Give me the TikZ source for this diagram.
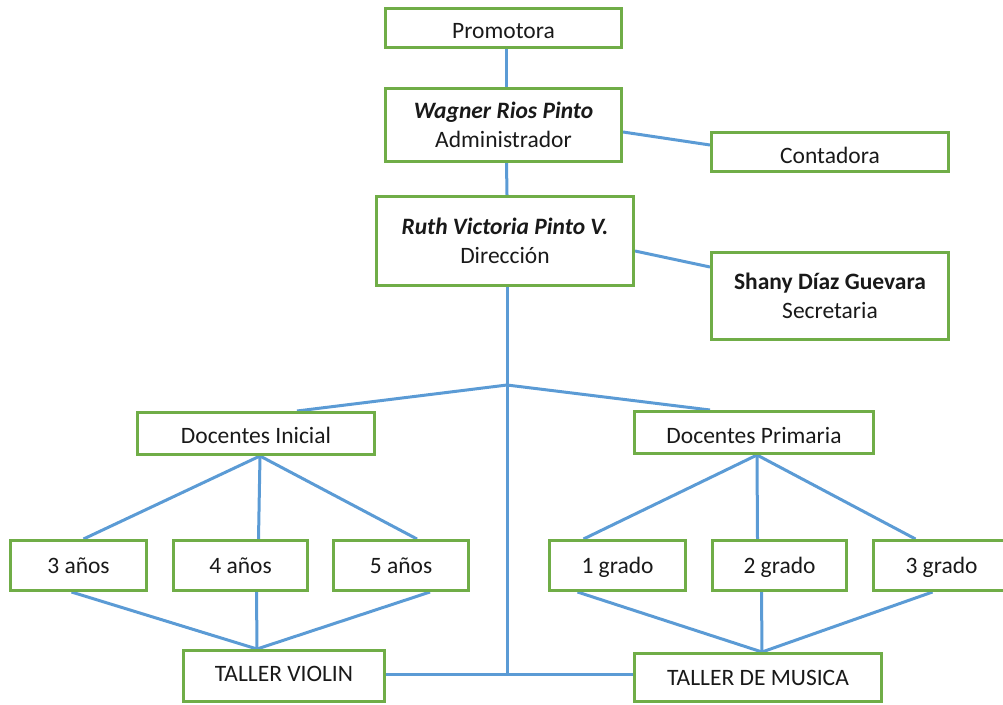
\documentclass[tikz,border=0pt]{standalone}
\usepackage{fontspec}
\setmainfont{Carlito}
\usetikzlibrary{backgrounds}
\definecolor{boxgreen}{RGB}{112,173,71}
\definecolor{linkblue}{RGB}{91,155,213}
\tikzset{
  box/.style = {draw=boxgreen, line width=3pt, inner sep=0pt, align=center,
    text=black!90, font=\fontsize{23.5}{29}\selectfont},
  textpos/.style = {text depth=2pt, text height=#1},
  link/.style = {draw=linkblue, line width=3pt}
}

\begin{document}
\begin{tikzpicture}[x=1pt,y=-1pt]
  \useasboundingbox (0,0) rectangle (1003,704);
  % management
  \node[box, textpos=22.6pt, minimum width=236pt, minimum height=39pt] (promotora) at (503.5,28) {Promotora};
  \node[box, minimum width=236pt, minimum height=73pt] (wagner) at (503.5,125)
    {\textbf{\textit{Wagner Rios Pinto}}\\Administrador};
  \node[box, minimum width=257pt, minimum height=89pt] (ruth) at (505,241)
    {\textbf{\textit{Ruth Victoria Pinto V.}}\\Dirección};
  \node[box, textpos=24.6pt, minimum width=237pt, minimum height=39pt] (contadora) at (830,152) {Contadora};
  \node[box, minimum width=237pt, minimum height=87pt] (shany) at (830,296)
    {\textbf{Shany Díaz Guevara}\\Secretaria};
  % teachers
  \node[box, textpos=21pt, minimum width=237pt, minimum height=42pt] (inicial) at (256,433.5) {Docentes Inicial};
  \node[box, textpos=23.6pt, minimum width=239pt, minimum height=42pt] (primaria) at (754,432.5) {Docentes Primaria};
  % classes
  \node[box, textpos=17pt, minimum width=136pt, minimum height=50pt] (anios3) at (78.5,565.5) {3 años};
  \node[box, textpos=17pt, minimum width=134pt, minimum height=50pt] (anios4) at (240.5,565.5) {4 años};
  \node[box, textpos=17pt, minimum width=135pt, minimum height=50pt] (anios5) at (401,565.5) {5 años};
  \node[box, textpos=17pt, minimum width=136pt, minimum height=50pt] (grado1) at (617.5,565.5) {1 grado};
  \node[box, textpos=17pt, minimum width=134pt, minimum height=50pt] (grado2) at (779.5,565.5) {2 grado};
  \node[box, textpos=17pt, minimum width=136pt, minimum height=50pt] (grado3) at (941.5,565.5) {3 grado};
  % workshops
  \node[box, textpos=13.4pt, minimum width=201pt, minimum height=51pt] (violin) at (284,676) {TALLER VIOLIN};
  \node[box, textpos=17pt, minimum width=247pt, minimum height=48pt] (musica) at (758,677.5) {TALLER DE MUSICA};
  \coordinate (j) at (507,385);
  \coordinate (k) at (507,674);
  % connectors
  \begin{scope}[on background layer]
    \draw[link] ([xshift=3pt]promotora.south) -- ([xshift=3pt]wagner.north);
    \draw[link] ([xshift=3pt]wagner.south) -- ([xshift=2pt]ruth.north);
    \draw[link] ([yshift=-7pt]wagner.east) -- ([yshift=7pt]contadora.west);
    \draw[link] ([yshift=-10pt]ruth.east) -- ([yshift=29pt]shany.west);
    \draw[link] ([xshift=2pt]ruth.south) -- (j) -- (k);
    \draw[link] (j) -- ([xshift=41pt]inicial.north);
    \draw[link] (j) -- ([xshift=-44pt]primaria.north);
    \draw[link] (violin.east |- k) -- (k) -- (musica.west |- k);
    \foreach \n/\a/\b in {anios3/5pt/-7pt, anios4/18pt/16pt, anios5/16pt/29pt} {
      \draw[link] ([xshift=4pt]inicial.south) -- ([xshift=\a]\n.north);
      \draw[link] ([xshift=\b]\n.south) -- ([xshift=-27pt]violin.north);
    }
    \foreach \n/\a/\b in {grado1/-34pt/-40pt, grado2/-22pt/-18pt, grado3/-26pt/-9pt} {
      \draw[link] ([xshift=3pt]primaria.south) -- ([xshift=\a]\n.north);
      \draw[link] ([xshift=\b]\n.south) -- ([xshift=4pt]musica.north);
    }
  \end{scope}
\end{tikzpicture}
\end{document}
